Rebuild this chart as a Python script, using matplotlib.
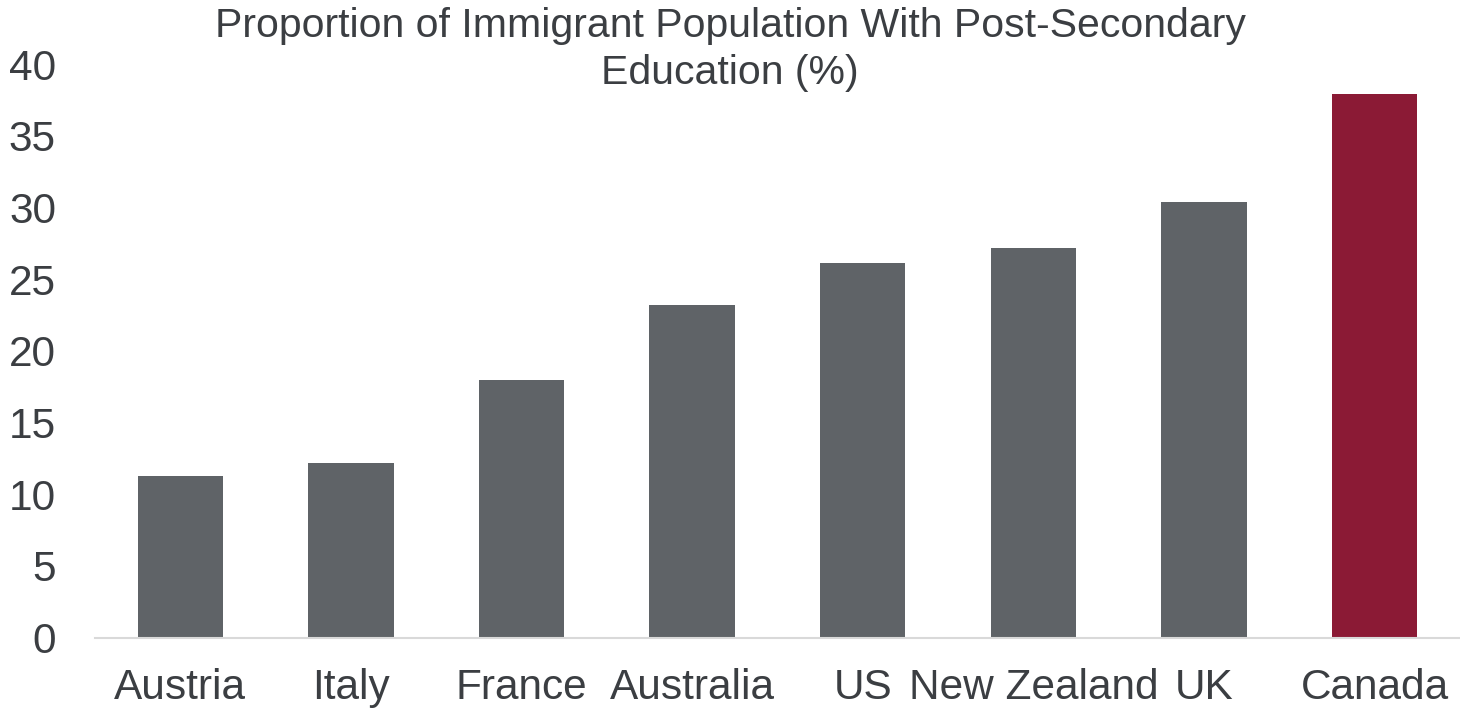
import matplotlib
matplotlib.use("Agg")
import matplotlib.pyplot as plt

countries = ["Austria", "Italy", "France", "Australia", "US", "New Zealand", "UK", "Canada"]
shares = [11.3, 12.2, 18.0, 23.2, 26.1, 27.2, 30.4, 37.9]
bar_colors = ["#5f6367"] * 7 + ["#8b1a35"]
y_ticks = [0, 5, 10, 15, 20, 25, 30, 35, 40]

text_color = "#3b3e42"
plt.rcParams["font.family"] = ["Liberation Sans", "DejaVu Sans"]

fig = plt.figure(figsize=(14.6, 7.14), dpi=100)
ax = fig.add_axes([0.065, 0.107, 0.935, 0.803])

x = range(len(countries))
ax.bar(x, shares, width=0.5, color=bar_colors, zorder=2)

ax.set_xlim(-0.5, len(countries) - 0.5)
ax.set_ylim(0, 40)
ax.set_yticks(y_ticks)
ax.set_xticks(list(x))
ax.set_xticklabels(countries)

for side in ("top", "right", "left"):
    ax.spines[side].set_visible(False)
ax.spines["bottom"].set_color("#d9d9d9")
ax.spines["bottom"].set_linewidth(1.5)

ax.tick_params(axis="y", length=0, pad=28, labelsize=30.5, labelcolor=text_color)
ax.tick_params(axis="x", length=0, pad=22, labelsize=30.5, labelcolor=text_color)

fig.text(0.5, 0.99, "Proportion of Immigrant Population With Post-Secondary\nEducation (%)",
         ha="center", va="top", fontsize=29.5, color=text_color, linespacing=1.3)

fig.savefig("out.png", dpi=100, facecolor="white")
